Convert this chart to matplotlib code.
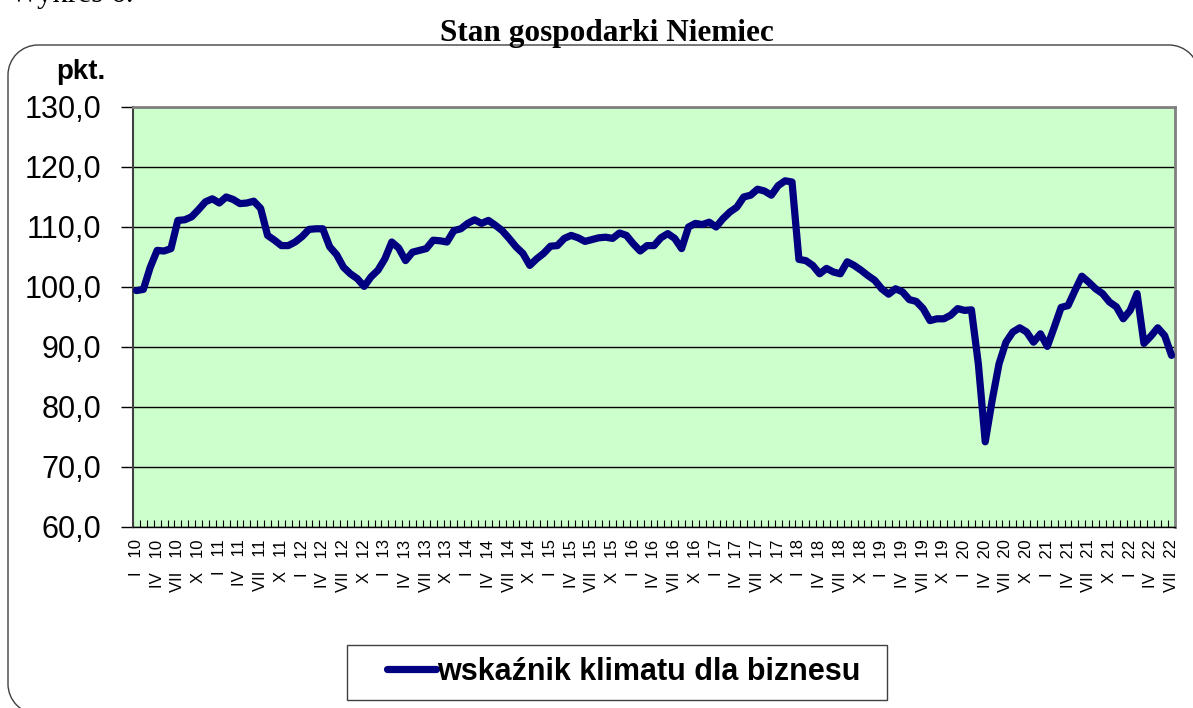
import numpy as np
import matplotlib
matplotlib.use('Agg')
import matplotlib.pyplot as plt
from matplotlib.patches import PathPatch, Rectangle
from matplotlib.path import Path
from matplotlib.transforms import IdentityTransform

# wskaznik klimatu dla biznesu, I 2010 - VII 2022 (monthly)
values = [99.4, 99.6, 103.3, 106.1, 106.0, 106.4, 111.1, 111.2, 111.7, 112.9, 114.2, 114.7,
          114.0, 115.0, 114.6, 113.9, 114.0, 114.3, 113.1, 108.6, 107.8, 106.9, 106.9, 107.5,
          108.4, 109.6, 109.7, 109.7, 106.7, 105.4, 103.3, 102.2, 101.4, 100.1, 101.7, 102.8,
          104.7, 107.5, 106.5, 104.4, 105.8, 106.1, 106.4, 107.8, 107.7, 107.5, 109.4, 109.7,
          110.6, 111.2, 110.6, 111.1, 110.3, 109.4, 108.1, 106.7, 105.6, 103.6, 104.7, 105.6,
          106.8, 106.9, 108.1, 108.6, 108.2, 107.6, 107.9, 108.2, 108.3, 108.1, 109.0, 108.6,
          107.2, 106.0, 106.9, 106.9, 108.2, 108.9, 108.1, 106.4, 110.0, 110.6, 110.4, 110.8,
          110.0, 111.4, 112.5, 113.3, 115.0, 115.3, 116.3, 116.0, 115.3, 116.9, 117.7, 117.5,
          104.6, 104.4, 103.6, 102.2, 103.1, 102.5, 102.2, 104.2, 103.6, 102.8, 101.9, 101.1,
          99.7, 98.8, 99.7, 99.2, 97.9, 97.6, 96.4, 94.4, 94.7, 94.7, 95.3, 96.4,
          96.1, 96.2, 87.2, 74.2, 81.1, 87.2, 90.8, 92.5, 93.2, 92.5, 90.8, 92.2,
          90.1, 93.3, 96.6, 96.9, 99.4, 101.8, 100.8, 99.7, 98.9, 97.5, 96.7, 94.7,
          96.1, 98.9, 90.6, 91.8, 93.2, 91.9, 88.6]

roman = ['I', 'IV', 'VII', 'X']
years = ['10', '11', '12', '13', '14', '15', '16', '17', '18', '19', '20', '21', '22']
tick_pos = list(range(0, len(values), 3))
tick_labels = [roman[(i % 12) // 3] + '   ' + years[i // 12] for i in tick_pos]
y_ticks = [60, 70, 80, 90, 100, 110, 120, 130]

plt.rcParams['font.family'] = ['Liberation Sans', 'DejaVu Sans']

W, H = 1193, 708
fig = plt.figure(figsize=(W / 100, H / 100), dpi=100)
ax = fig.add_axes([133 / W, 1 - 527 / H, 1042 / W, 420 / H])
ax.set_facecolor('#CCFFCC')

x = np.arange(len(values))
ax.plot(x, values, color='#000080', lw=5.2, solid_joinstyle='round', solid_capstyle='round',
        label='wskaźnik klimatu dla biznesu', zorder=3)

ax.set_xlim(-0.5, len(values) - 0.5)
ax.set_ylim(60, 130)
ax.set_yticks(y_ticks)
ax.set_yticklabels([f'{v},0' for v in y_ticks], fontsize=22)
ax.tick_params(axis='y', length=9, width=1, pad=14, color='black')
ax.grid(axis='y', color='black', lw=1)
ax.set_axisbelow(True)

ax.set_xticks(tick_pos)
ax.set_xticklabels(tick_labels, rotation=90, fontsize=12, va='top', ha='center')
ax.set_xticks(np.arange(-0.5, len(values), 1), minor=True)
ax.tick_params(axis='x', which='major', length=0, pad=9)
ax.tick_params(axis='x', which='minor', direction='in', length=5, width=0.8, color='black')

for s in ['top', 'right']:
    ax.spines[s].set_color('#808080')
    ax.spines[s].set_linewidth(2)
ax.spines['left'].set_color('#404040')
ax.spines['left'].set_linewidth(1.5)
ax.spines['bottom'].set_color('black')
ax.spines['bottom'].set_linewidth(1)

fig.text(0.008, 1 - 2 / H, 'Wykres 6.', family='Liberation Serif', fontsize=22,
         ha='left', va='baseline')
fig.text(607 / W, 1 - 33 / H, 'Stan gospodarki Niemiec', family='Liberation Serif',
         weight='bold', fontsize=22.5, ha='center', va='center')
fig.text(105 / W, 1 - 72 / H, 'pkt.', weight='bold', fontsize=20, ha='right', va='center')


# outer rounded frame (pixel coords, origin bottom-left); right and bottom run off the canvas
def add_arc(verts, codes, cx, cy, r, t1, t2, reverse=False):
    a = Path.arc(t1, t2)
    v = a.vertices * r + [cx, cy]
    if reverse:
        v = v[::-1]
    verts += [tuple(p) for p in v[1:]]
    codes += list(a.codes[1:])


def frame_path(x0, y0, x1, y1, r):
    verts, codes = [(x0 + r, y0)], [Path.MOVETO]
    add_arc(verts, codes, x0 + r, y0 + r, r, 180, 270, reverse=True)
    verts.append((x0, y1 - r)); codes.append(Path.LINETO)
    add_arc(verts, codes, x0 + r, y1 - r, r, 90, 180, reverse=True)
    verts.append((x1 - r, y1)); codes.append(Path.LINETO)
    add_arc(verts, codes, x1 - r, y1 - r, r, 0, 90, reverse=True)
    verts.append((x1, y0)); codes.append(Path.LINETO)
    return Path(verts, codes)


fig.add_artist(PathPatch(frame_path(8, -6, 1199, 663, 30), transform=IdentityTransform(),
                         fill=False, ec='#404040', lw=1))
fig.add_artist(Rectangle((347, 8), 540, 55, transform=IdentityTransform(),
                         fill=False, ec='#404040', lw=1))

ax.legend(loc='center', bbox_to_anchor=(624 / W, 1 - 672 / H), bbox_transform=fig.transFigure,
          frameon=False, prop={'weight': 'bold', 'size': 22}, handlelength=1.6,
          handletextpad=0.05)

fig.savefig('out.png', dpi=100)
